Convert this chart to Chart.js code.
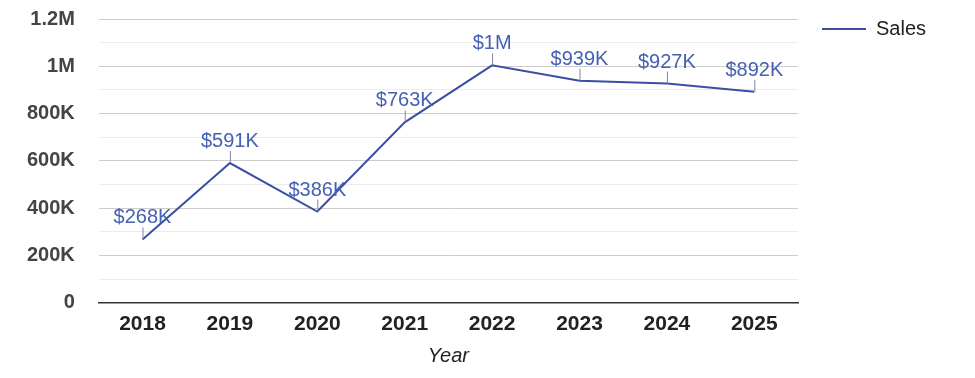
<!DOCTYPE html>
<html>
<head>
<meta charset="utf-8">
<script src="https://cdn.jsdelivr.net/npm/chart.js@4/dist/chart.umd.min.js"></script>
<style>
  html, body { margin: 0; padding: 0; background: #ffffff; }
  #wrap { width: 975px; height: 378px; position: relative; }
</style>
</head>
<body>
<div id="wrap"><canvas id="c" width="975" height="378"></canvas></div>
<script>
const years = ['2018', '2019', '2020', '2021', '2022', '2023', '2024', '2025'];
const sales = [268000, 591000, 386000, 763000, 1004000, 939000, 927000, 892000];
const seriesName = 'Sales';
const axisTitle = 'Year';
const yMax = 1200000;
const yStep = 100000;

const FONT = '"Liberation Sans", Arial, Helvetica, sans-serif';
const LINE_COLOR = '#3a4ea5';
const LABEL_COLOR = '#4560b4';

function fmtTick(v) {
  if (v === 0) return '0';
  if (v >= 1e6) return (v / 1e6).toString() + 'M';
  return (v / 1e3).toString() + 'K';
}
function fmtLabel(v) {
  if (v >= 1e6) return '$' + Math.round(v / 1e6) + 'M';
  return '$' + Math.round(v / 1e3) + 'K';
}

const dataLabels = {
  id: 'dataLabels',
  afterDatasetsDraw(chart) {
    const ctx = chart.ctx;
    const meta = chart.getDatasetMeta(0);
    const vals = chart.data.datasets[0].data;
    ctx.save();
    meta.data.forEach((pt, i) => {
      const x = pt.x, y = pt.y;
      ctx.strokeStyle = '#7d86a6';
      ctx.lineWidth = 1;
      ctx.beginPath();
      ctx.moveTo(x + 0.5, y);
      ctx.lineTo(x + 0.5, y - 12);
      ctx.stroke();
      ctx.fillStyle = LABEL_COLOR;
      ctx.font = '20px ' + FONT;
      ctx.textAlign = 'center';
      ctx.textBaseline = 'alphabetic';
      ctx.fillText(fmtLabel(vals[i]), x, y - 16);
    });
    ctx.restore();
  }
};

const legendFix = {
  id: 'legendFix',
  afterInit(chart) {
    const leg = chart.legend;
    if (leg) {
      const orig = leg.fit.bind(leg);
      leg.fit = function () { orig(); this.width = 177; };
    }
  },
  afterLayout(chart) {
    const leg = chart.legend;
    if (leg) {
      leg.left = 822;
      leg.right = 975;
      leg.top = 19;
      leg.bottom = 378;
    }
  }
};

new Chart(document.getElementById('c'), {
  type: 'line',
  data: {
    labels: years,
    datasets: [{
      label: seriesName,
      data: sales,
      borderColor: LINE_COLOR,
      backgroundColor: LINE_COLOR,
      borderWidth: 2,
      pointRadius: 0,
      pointHoverRadius: 0,
      tension: 0,
      fill: false
    }]
  },
  options: {
    responsive: false,
    animation: false,
    devicePixelRatio: 1,
    layout: { padding: { top: 19, right: 0, bottom: 12, left: 3 } },
    plugins: {
      tooltip: { enabled: false },
      legend: {
        display: true,
        position: 'right',
        align: 'start',
        labels: {
          usePointStyle: true,
          pointStyle: 'line',
          pointStyleWidth: 44,
          boxHeight: 20,
          padding: 0,
          color: '#222222',
          font: { family: FONT, size: 20 }
        }
      }
    },
    scales: {
      x: {
        offset: true,
        grid: { display: false, drawTicks: false },
        border: { display: true, color: '#333333', width: 1.5 },
        ticks: {
          color: '#222222',
          padding: 9,
          maxRotation: 0,
          font: { family: FONT, size: 21, weight: 'bold' }
        },
        title: {
          display: true,
          text: axisTitle,
          color: '#222222',
          padding: { top: 0, bottom: 0 },
          font: { family: FONT, size: 20, style: 'italic', lineHeight: 1 }
        }
      },
      y: {
        min: 0,
        max: yMax,
        afterFit: (scale) => { scale.paddingTop = 0; scale.paddingBottom = 0; },
        grid: {
          drawTicks: false,
          color: (c) => {
            const v = c.tick ? c.tick.value : 0;
            return (Math.round(v / yStep) % 2 === 1) ? '#ececec' : '#cccccc';
          },
          lineWidth: 1
        },
        border: { display: false },
        ticks: {
          stepSize: yStep,
          autoSkip: false,
          padding: 24,
          color: '#444444',
          font: { family: FONT, size: 20, weight: 'bold' },
          callback: (v) => (Math.round(v / yStep) % 2 === 1) ? '' : fmtTick(v)
        }
      }
    }
  },
  plugins: [dataLabels, legendFix]
});
</script>
</body>
</html>
